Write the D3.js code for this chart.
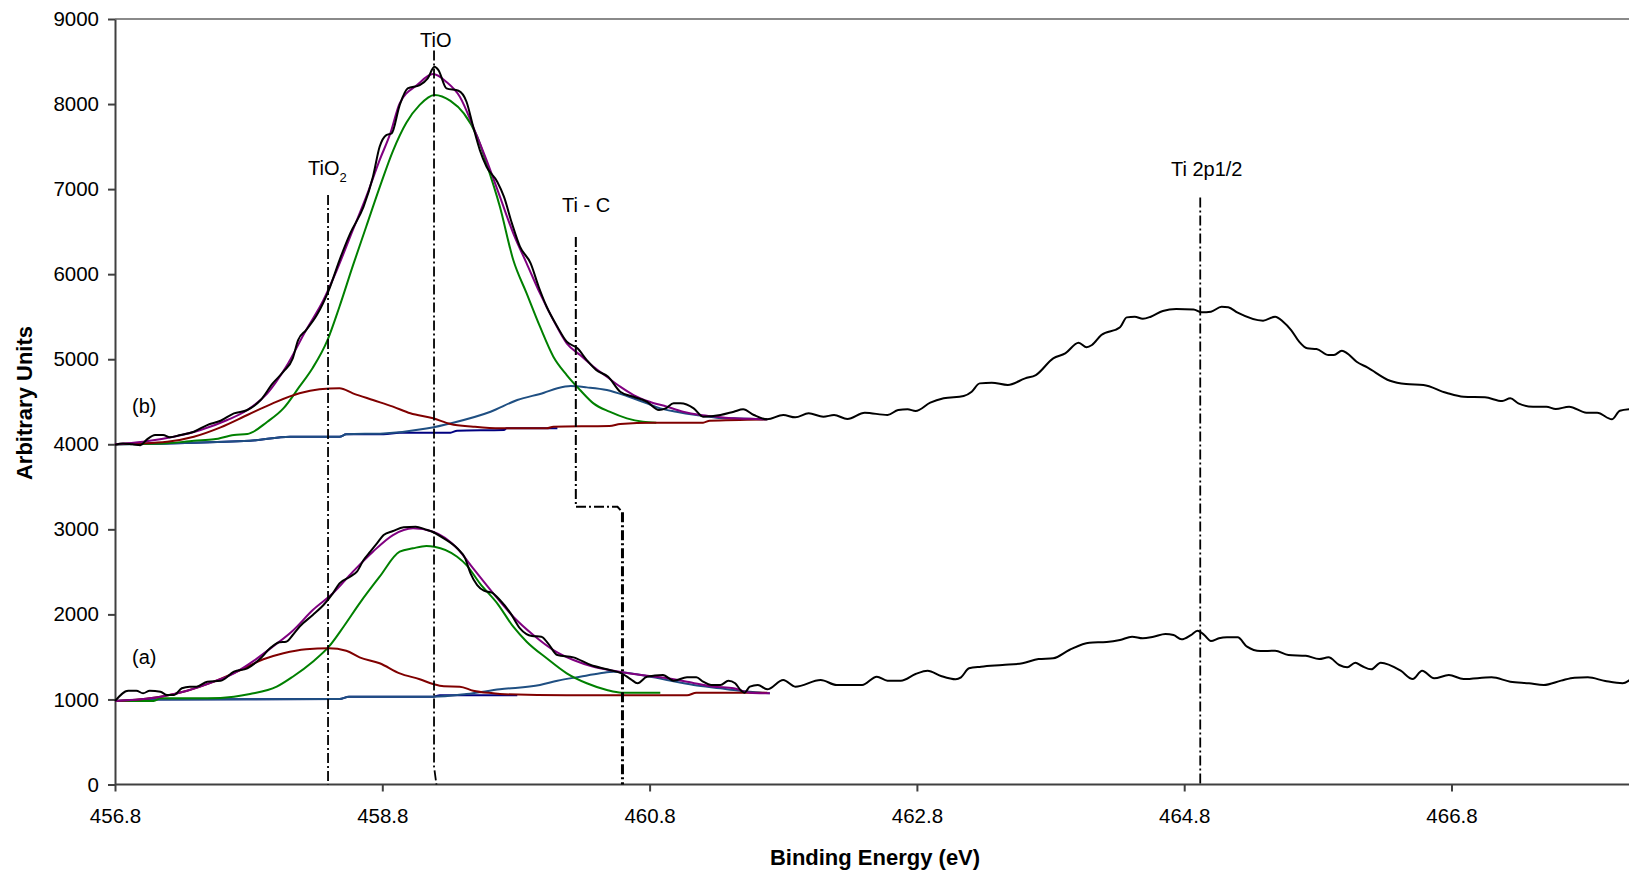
<!DOCTYPE html>
<html>
<head>
<meta charset="utf-8">
<script src="https://cdn.jsdelivr.net/npm/d3@7"></script>
<style>
  html, body { margin: 0; padding: 0; background: #fff; }
  svg { display: block; font-family: "Liberation Sans", Arial, sans-serif; }
</style>
</head>
<body>
<svg id="chart" width="1629" height="875"></svg>
<script>
// ---------------- DATA ----------------
const xTicks = [456.8, 458.8, 460.8, 462.8, 464.8, 466.8];
const yTicks = [0, 1000, 2000, 3000, 4000, 5000, 6000, 7000, 8000, 9000];

// Spectrum (b) raw data [eV, counts]
const rawB = [
[456.80,3995],[456.86,4010],[456.93,4000],[456.99,3990],[457.04,4058],[457.10,4109],[457.16,4109],[457.21,4082],
[457.29,4109],[457.39,4148],[457.49,4226],[457.59,4277],[457.69,4364],[457.79,4403],[457.89,4520],[457.98,4716],
[458.06,4853],[458.13,5010],[458.17,5225],[458.23,5343],[458.31,5519],[458.40,5813],[458.48,6166],[458.56,6480],
[458.66,6793],[458.73,7145],[458.78,7498],[458.83,7635],[458.87,7655],[458.93,7988],[458.99,8184],[459.08,8223],
[459.14,8302],[459.19,8438],[459.22,8400],[459.28,8184],[459.37,8156],[459.43,8027],[459.48,7733],[459.53,7459],
[459.58,7263],[459.66,7087],[459.71,6911],[459.77,6597],[459.83,6323],[459.91,6127],[459.97,5852],[460.03,5617],
[460.11,5382],[460.18,5206],[460.26,5128],[460.33,4990],[460.40,4873],[460.49,4794],[460.58,4618],[460.68,4559],
[460.78,4500],[460.87,4403],[460.92,4422],[460.98,4481],[461.03,4481],[461.13,4422],[461.20,4324],[461.33,4344],
[461.43,4383],[461.50,4411],[461.58,4344],[461.68,4293],[461.80,4344],[461.89,4317],[461.99,4364],[462.10,4324],
[462.18,4344],[462.28,4297],[462.41,4371],[462.58,4344],[462.66,4403],[462.73,4411],[462.79,4391],[462.90,4489],
[463.00,4540],[463.15,4567],[463.21,4618],[463.27,4716],[463.36,4724],[463.48,4697],[463.61,4775],[463.69,4814],
[463.82,5010],[463.91,5069],[464.01,5194],[464.07,5140],[464.11,5167],[464.18,5284],[464.32,5375],[464.37,5492],
[464.43,5500],[464.49,5476],[464.55,5500],[464.64,5567],[464.74,5590],[464.87,5586],[464.93,5551],[465.00,5559],
[465.08,5617],[465.13,5610],[465.20,5547],[465.39,5453],[465.48,5500],[465.54,5441],[465.60,5343],[465.66,5206],
[465.72,5128],[465.79,5120],[465.88,5049],[465.92,5049],[465.98,5100],[466.02,5069],[466.09,4971],[466.17,4904],
[466.34,4747],[466.46,4708],[466.59,4697],[466.76,4606],[466.89,4559],[467.05,4552],[467.18,4508],[467.24,4540],
[467.30,4481],[467.41,4442],[467.51,4442],[467.58,4414],[467.68,4442],[467.81,4371],[467.89,4371],[468.00,4293],
[468.06,4395],[468.14,4414]
];
// Spectrum (b) fitted envelope
const fitB = [
[456.80,4000],[457.01,4030],[457.24,4089],[457.44,4168],[457.64,4285],[457.79,4403],[457.94,4599],[458.08,4911],
[458.23,5343],[458.36,5696],[458.46,6049],[458.58,6520],[458.68,6911],[458.78,7341],[458.86,7655],[458.93,8008],
[459.06,8223],[459.18,8352],[459.28,8260],[459.38,8086],[459.48,7733],[459.58,7341],[459.68,6911],[459.78,6480],
[459.88,6127],[459.98,5774],[460.08,5460],[460.18,5187],[460.28,5049],[460.38,4912],[460.48,4794],[460.58,4677],
[460.68,4579],[460.80,4500],[460.93,4442],[461.05,4383],[461.18,4344],[461.30,4324],[461.43,4305],[461.55,4300],
[461.68,4293]
];
// Spectrum (b) TiO component
const tioB = [
[456.80,4000],[457.19,4011],[457.39,4042],[457.54,4058],[457.69,4109],[457.79,4120],[457.94,4265],[458.06,4422],
[458.18,4677],[458.28,4900],[458.39,5225],[458.48,5620],[458.58,6100],[458.68,6560],[458.78,7020],[458.88,7450],
[458.98,7780],[459.08,7990],[459.19,8106],[459.31,8037],[459.41,7890],[459.51,7616],[459.58,7300],[459.68,6793],
[459.78,6166],[459.88,5774],[459.98,5382],[460.08,5030],[460.18,4814],[460.28,4638],[460.38,4481],[460.50,4383],
[460.63,4305],[460.75,4265],[460.85,4254]
];
// Spectrum (b) TiO2 component
const tio2B = [
[456.80,4000],[457.19,4030],[457.39,4089],[457.59,4199],[457.79,4344],[457.98,4481],[458.18,4599],[458.33,4646],
[458.48,4658],[458.58,4599],[458.73,4520],[458.88,4442],[459.01,4364],[459.18,4305],[459.31,4238],[459.48,4207],
[459.68,4187],[460.03,4187],[460.08,4207],[460.50,4215],[460.58,4238],[460.83,4254],[461.20,4254],[461.25,4277],
[461.68,4293]
];
// Spectrum (b) Ti-C component
const ticB = [
[456.80,4000],[457.81,4042],[458.11,4089],[458.48,4089],[458.53,4117],[458.81,4128],[459.13,4185],[459.33,4254],
[459.61,4383],[459.81,4520],[460.01,4606],[460.11,4658],[460.21,4684],[460.33,4669],[460.48,4638],[460.63,4567],
[460.78,4481],[460.88,4422],[461.00,4383],[461.15,4344],[461.30,4313],[461.43,4305],[461.68,4293]
];
// Spectrum (b) background
const bgB = [
[456.80,4000],[457.81,4042],[458.11,4089],[458.48,4089],[458.53,4117],[458.81,4117],[458.93,4136],[459.31,4136],
[459.36,4160],[459.71,4168],[459.73,4187],[460.11,4187]
];

// Spectrum (a) raw data
const rawA = [
[456.80,982],[456.90,1103],[456.96,1103],[457.01,1072],[457.06,1103],[457.14,1091],[457.19,1052],[457.24,1052],
[457.30,1131],[457.36,1150],[457.41,1150],[457.49,1209],[457.59,1220],[457.69,1326],[457.79,1366],[457.89,1484],
[457.96,1601],[458.03,1672],[458.08,1679],[458.13,1758],[458.18,1855],[458.28,1993],[458.36,2110],[458.43,2248],
[458.48,2365],[458.56,2443],[458.61,2502],[458.66,2639],[458.71,2737],[458.76,2835],[458.81,2933],[458.88,2980],
[458.96,3024],[459.05,3031],[459.12,3000],[459.19,2960],[459.26,2894],[459.36,2777],[459.42,2659],[459.46,2483],
[459.51,2345],[459.56,2279],[459.62,2255],[459.68,2169],[459.76,2012],[459.83,1836],[459.92,1746],[459.99,1738],
[460.04,1660],[460.11,1522],[460.23,1495],[460.36,1405],[460.48,1354],[460.59,1307],[460.66,1237],[460.71,1190],
[460.78,1267],[460.90,1287],[460.98,1220],[461.08,1260],[461.15,1260],[461.20,1209],[461.26,1170],[461.33,1170],
[461.39,1220],[461.44,1190],[461.48,1111],[461.51,1080],[461.55,1150],[461.61,1170],[461.68,1119],[461.80,1229],
[461.89,1150],[462.08,1229],[462.20,1170],[462.39,1170],[462.50,1268],[462.58,1221],[462.68,1221],[462.79,1299],
[462.88,1338],[462.98,1276],[463.09,1237],[463.13,1260],[463.19,1366],[463.28,1385],[463.44,1405],[463.59,1425],
[463.71,1475],[463.82,1484],[463.94,1581],[464.09,1667],[464.22,1675],[464.32,1699],[464.41,1738],[464.49,1719],
[464.57,1738],[464.66,1769],[464.72,1757],[464.78,1707],[464.85,1757],[464.90,1808],[464.95,1757],[465.00,1687],
[465.06,1719],[465.12,1730],[465.20,1730],[465.27,1620],[465.37,1569],[465.48,1573],[465.58,1522],[465.71,1514],
[465.81,1475],[465.88,1495],[465.96,1405],[466.02,1378],[466.08,1432],[466.13,1393],[466.20,1354],[466.27,1432],
[466.42,1338],[466.51,1240],[466.58,1338],[466.67,1248],[466.78,1287],[466.89,1240],[467.10,1260],[467.24,1209],
[467.38,1190],[467.49,1170],[467.62,1221],[467.72,1256],[467.82,1260],[467.95,1217],[468.08,1190],[468.15,1248]
];
// Spectrum (a) fitted envelope
const fitA = [
[456.80,982],[456.99,1002],[457.14,1032],[457.34,1103],[457.54,1209],[457.69,1307],[457.84,1456],[457.98,1620],
[458.13,1808],[458.28,2051],[458.43,2248],[458.58,2502],[458.73,2737],[458.88,2933],[459.03,3012],[459.18,2972],
[459.36,2777],[459.48,2541],[459.63,2248],[459.78,1973],[459.93,1758],[460.08,1581],[460.23,1464],[460.38,1385],
[460.53,1338],[460.68,1299],[460.88,1260],[461.08,1209],[461.28,1150],[461.43,1131],[461.55,1080],[461.70,1072]
];
// Spectrum (a) TiO component
const tioA = [
[456.80,982],[457.09,982],[457.14,1013],[457.49,1013],[457.69,1032],[457.81,1064],[458.01,1150],[458.13,1267],
[458.28,1444],[458.40,1620],[458.51,1855],[458.63,2130],[458.78,2443],[458.93,2737],[459.03,2777],[459.13,2804],
[459.19,2796],[459.36,2678],[459.43,2580],[459.53,2365],[459.66,2130],[459.78,1855],[459.88,1679],[460.03,1484],
[460.18,1307],[460.33,1190],[460.48,1111],[460.59,1080],[460.88,1080]
];
// Spectrum (a) TiO2 component
const tio2A = [
[456.80,982],[457.14,1032],[457.34,1103],[457.54,1209],[457.74,1346],[457.91,1472],[458.06,1543],[458.23,1590],
[458.40,1601],[458.53,1573],[458.63,1495],[458.78,1425],[458.93,1307],[459.08,1237],[459.18,1181],[459.26,1155],
[459.38,1150],[459.48,1103],[459.63,1072],[459.68,1064],[460.18,1048],[461.08,1048],[461.15,1080],[461.68,1080]
];
// Spectrum (a) Ti-C component
const ticA = [
[456.80,982],[457.09,1000],[458.48,1005],[458.55,1032],[459.18,1032],[459.43,1064],[459.68,1119],[459.98,1170],
[460.11,1220],[460.28,1267],[460.43,1307],[460.53,1326],[460.59,1320],[460.78,1276],[460.93,1229],[461.13,1170],
[461.33,1131],[461.43,1111],[461.55,1091],[461.70,1072]
];
// Spectrum (a) background
const bgA = [
[456.80,982],[457.09,1000],[458.48,1005],[458.55,1032],[459.18,1032],[459.23,1048],[459.81,1048]
];

// Peak position markers [eV, counts]
const markTiO2 = [[458.394,6930],[458.394,0]];
const markTiO = [[459.187,8630],[459.187,210],[459.205,0]];
const markTiCUpper = [[460.248,6437],[460.248,3265],[460.56,3265],[460.597,3200]];
const markTiCLower = [[460.597,3200],[460.597,0]];
const markTi2p = [[464.92,6900],[464.92,0]];

// Text annotations [eV, counts]
const peakLabels = [
  { text: "TiO", sub: "", at: [459.082, 8670] },
  { text: "TiO", sub: "2", at: [458.244, 7165] },
  { text: "Ti - C", sub: "", at: [460.145, 6730] },
  { text: "Ti 2p1/2", sub: "", at: [464.701, 7153] }
];
const spectrumLabels = [
  { text: "(b)", at: [456.927, 4367] },
  { text: "(a)", at: [456.927, 1417] }
];

// ---------------- DRAWING ----------------
const svg = d3.select("#chart");
const W = 1629, H = 875;
const plotLeft = 115, plotTop = 19, plotBottom = 784.5;
const pxPerEV = 133.65;

const x = d3.scaleLinear().domain([456.8, 468.2]).range([plotLeft, plotLeft + 11.4 * pxPerEV]);
const y = d3.scaleLinear().domain([0, 9000]).range([plotBottom, plotTop]);

const fontFam = '"Liberation Sans", Arial, sans-serif';

// top border
svg.append("line")
  .attr("x1", x(456.8)).attr("x2", W + 5)
  .attr("y1", y(9000)).attr("y2", y(9000))
  .attr("stroke", "#8a8a8a").attr("stroke-width", 2);

// axes
const yAxis = d3.axisLeft(y).tickValues(yTicks).tickFormat(d3.format("d"))
  .tickSize(7).tickPadding(9).tickSizeOuter(0);
const gy = svg.append("g").attr("transform", `translate(${plotLeft},0)`).call(yAxis);
gy.selectAll("path, line").attr("stroke", "#404040").attr("stroke-width", 2);
gy.selectAll("text").attr("font-size", 20.5).attr("font-family", fontFam).attr("fill", "#000");

const xAxis = d3.axisBottom(x).tickValues(xTicks).tickFormat(d3.format(".1f"))
  .tickSize(7).tickPadding(17).tickSizeOuter(0);
const gx = svg.append("g").attr("transform", `translate(0,${plotBottom})`).call(xAxis);
gx.select("path.domain").attr("d", `M${plotLeft},0H${W + 5}`);
gx.selectAll("path, line").attr("stroke", "#404040").attr("stroke-width", 2);
gx.selectAll("text").attr("font-size", 20.5).attr("font-family", fontFam).attr("fill", "#000");

// axis titles
svg.append("text")
  .attr("x", 875).attr("y", 865)
  .attr("text-anchor", "middle")
  .attr("font-size", 22).attr("font-weight", "bold").attr("font-family", fontFam)
  .text("Binding Energy (eV)");
svg.append("text")
  .attr("transform", "translate(32,403) rotate(-90)")
  .attr("text-anchor", "middle")
  .attr("font-size", 22).attr("font-weight", "bold").attr("font-family", fontFam)
  .text("Arbitrary Units");

// curves
const smooth = d3.line().x(d => x(d[0])).y(d => y(d[1])).curve(d3.curveMonotoneX);
const straight = d3.line().x(d => x(d[0])).y(d => y(d[1]));

const series = [
  [bgB, "#000080"], [ticB, "#1f4f82"], [tioB, "#008000"], [tio2B, "#800000"], [fitB, "#800080"], [rawB, "#000000"],
  [bgA, "#000080"], [ticA, "#1f4f82"], [tioA, "#008000"], [tio2A, "#800000"], [fitA, "#800080"], [rawA, "#000000"]
];
svg.append("g").selectAll("path").data(series).join("path")
  .attr("d", d => smooth(d[0]))
  .attr("fill", "none")
  .attr("stroke", d => d[1])
  .attr("stroke-width", 2)
  .attr("stroke-linejoin", "round");

// peak markers
const markers = [
  [markTiO2, 1.8], [markTiO, 1.8], [markTiCUpper, 2], [markTiCLower, 3], [markTi2p, 1.8]
];
svg.append("g").selectAll("path").data(markers).join("path")
  .attr("d", d => straight(d[0]))
  .attr("fill", "none")
  .attr("stroke", "#000")
  .attr("stroke-width", d => d[1])
  .attr("stroke-dasharray", "10,3,2,3");

// peak labels
const pl = svg.append("g").selectAll("text").data(peakLabels).join("text")
  .attr("x", d => x(d.at[0])).attr("y", d => y(d.at[1]))
  .attr("font-size", 20).attr("font-family", fontFam).attr("fill", "#000");
pl.append("tspan").text(d => d.text);
pl.filter(d => d.sub).append("tspan").attr("font-size", 13).attr("dy", 7).text(d => d.sub);

svg.append("g").selectAll("text").data(spectrumLabels).join("text")
  .attr("x", d => x(d.at[0])).attr("y", d => y(d.at[1]))
  .attr("font-size", 20).attr("font-family", fontFam).attr("fill", "#000")
  .text(d => d.text);
</script>
</body>
</html>
